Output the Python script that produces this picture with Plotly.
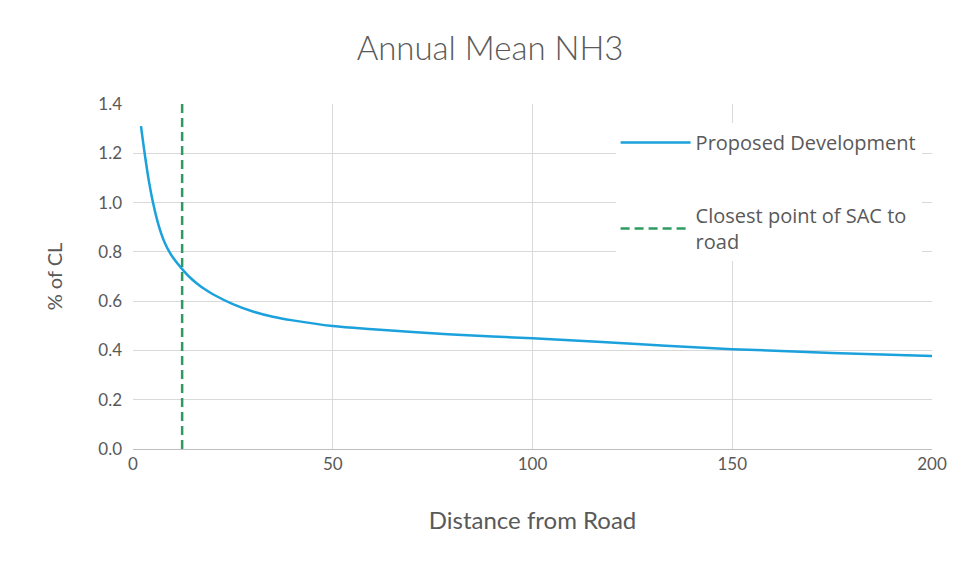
import plotly.graph_objects as go

distance = [2, 3, 4, 5, 6, 7, 8, 9, 10, 12, 14, 16, 18, 20, 25, 30, 35, 40,
            50, 60, 70, 80, 90, 100, 125, 150, 175, 200]
pct_cl = [1.31, 1.19, 1.085, 1.0, 0.932, 0.877, 0.835, 0.803, 0.777, 0.736,
          0.70, 0.672, 0.648, 0.628, 0.588, 0.558, 0.537, 0.522, 0.499, 0.486,
          0.475, 0.465, 0.457, 0.449, 0.427, 0.405, 0.39, 0.377]
sac_x = [12.3, 12.3]
sac_y = [0, 1.4]

font_family = "Lato, 'Open Sans', sans-serif"
grey = "#595959"

fig = go.Figure()
fig.add_trace(go.Scatter(
    x=distance, y=pct_cl, mode="lines", name="Proposed Development",
    line=dict(color="#1BA1DC", width=2.5, shape="spline", smoothing=1.0),
    legendgroup="a"))
fig.add_trace(go.Scatter(
    x=sac_x, y=sac_y, mode="lines", name="Closest point of SAC to<br>road",
    line=dict(color="#2E9A62", width=2.5, dash="9px,5px"),
    legendgroup="b"))

fig.update_layout(
    width=968, height=566,
    paper_bgcolor="white", plot_bgcolor="white",
    margin=dict(l=125, r=44, t=96, b=125),
    title=dict(text="Annual Mean NH3", x=0.498, xanchor="center", y=0.929, yanchor="middle",
               font=dict(family=font_family, size=33, color=grey, weight=300)),
    font=dict(family=font_family, color=grey),
    xaxis=dict(range=[0, 200], tickvals=[0, 50, 100, 150, 200],
               showgrid=True, gridcolor="#D9D9D9", gridwidth=1,
               showline=True, linecolor="#BFBFBF", zeroline=False,
               ticks="", tickfont=dict(size=17, color=grey),
               title=dict(text="Distance from Road", font=dict(size=24, color=grey), standoff=38)),
    yaxis=dict(range=[0, 1.4], tickvals=[0, 0.2, 0.4, 0.6, 0.8, 1.0, 1.2, 1.4],
               tickformat=".1f",
               showgrid=True, gridcolor="#D9D9D9", gridwidth=1,
               showline=False, zeroline=False, ticks="", ticklabelstandoff=10,
               tickfont=dict(size=17, color=grey),
               title=dict(text="% of CL", font=dict(size=20, color=grey), standoff=30)),
    legend=dict(x=0.604, y=0.945, xanchor="left", yanchor="top",
                bgcolor="white", font=dict(family="'Open Sans', sans-serif", size=20, color=grey),
                itemwidth=70, tracegroupgap=44, traceorder="grouped"),
    showlegend=True,
)

fig.write_html("out.html")
